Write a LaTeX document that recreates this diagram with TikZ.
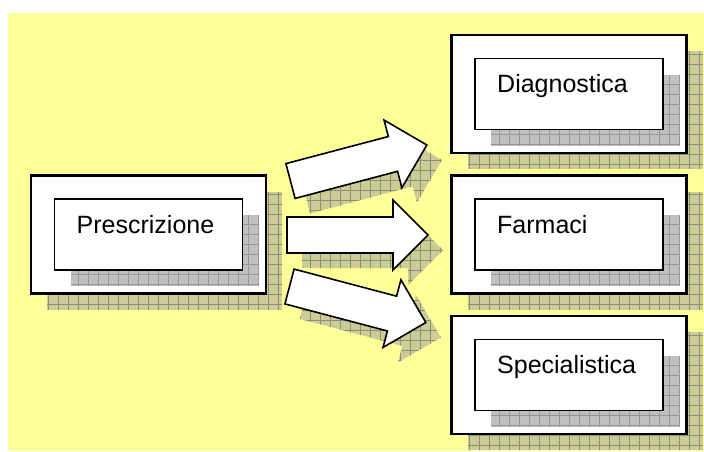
\documentclass[tikz,border=0pt]{standalone}
\usepackage{fontspec}
\setmainfont{Liberation Sans}
\usetikzlibrary{positioning}

\definecolor{notepad}{HTML}{FFFF99}
\definecolor{khaki}{HTML}{CCCC99}
\definecolor{khakiline}{HTML}{8F8F75}
\definecolor{greyshade}{HTML}{C0C0C0}
\definecolor{greyline}{HTML}{969696}

\tikzset{
  outerbox/.style={draw, fill=white, line width=2.2pt, minimum width=235pt,
    minimum height=118pt, inner sep=0pt, outer sep=0pt},
  innerbox/.style={draw, fill=white, line width=1.6pt, minimum width=188pt,
    minimum height=71pt, inner sep=0pt, outer sep=0pt},
  boxtext/.style={inner sep=0pt, font=\fontsize{25}{30}\selectfont},
  blockarrow/.style={draw, fill=white, line width=1.6pt, line join=miter}
}

% one framed box with its two grid shadows
\newcommand\panel[4]{%
  \begin{scope}[shift={(#2,#3)}]
    \fill[khaki] (-101.5,-43) rectangle (133.5,75);
    \draw[khakiline, line width=0.7pt] (-101.5,-43) grid[step=10pt] (133.5,75);
    \node[outerbox] (#1) at (0,0) {};
    \fill[greyshade] (-78,-19.5) rectangle (110,51.5);
    \draw[greyline, line width=0.7pt] (-78,-19.5) grid[step=10pt] (110,51.5);
    \node[innerbox] (#1-in) at (0,0) {};
  \end{scope}
  \node[boxtext, anchor=base west] (#1-txt) at ([shift={(22,34)}]#1-in.north west) {#4};}

% fat arrow: tail centre, angle
\newcommand\fatarrow[2]{%
  \begin{scope}[shift={#1}, shift={(15,15)}, rotate=#2]
    \clip (0,-18) -- (106,-18) -- (106,-35) -- (141,0) -- (106,35) -- (106,18) -- (0,18) -- cycle;
    \begin{scope}[reset cm]
      \fill[khaki] (240,90) rectangle (480,400);
      \draw[khakiline, line width=0.7pt] (240,90) grid[step=10pt] (480,400);
    \end{scope}
  \end{scope}
  \draw[blockarrow, shift={#1}, rotate=#2]
    (0,-18) -- (106,-18) -- (106,-35) -- (141,0) -- (106,35) -- (106,18) -- (0,18) -- cycle;}

\begin{document}
\begin{tikzpicture}[x=1pt, y=-1pt]
  \useasboundingbox (0,0) rectangle (704,451);
  \fill[notepad] (8,13) rectangle (704,451);

  \panel{prescr}{148.5}{234.5}{Prescrizione}
  \panel{diagn}{569}{94}{Diagnostica}
  \panel{farm}{569}{234.5}{Farmaci}
  \panel{spec}{569}{375}{Specialistica}

  \fatarrow{(290.5,181)}{14.8}
  \fatarrow{(287,235)}{0}
  \fatarrow{(289.5,286.5)}{-14.8}
\end{tikzpicture}
\end{document}
